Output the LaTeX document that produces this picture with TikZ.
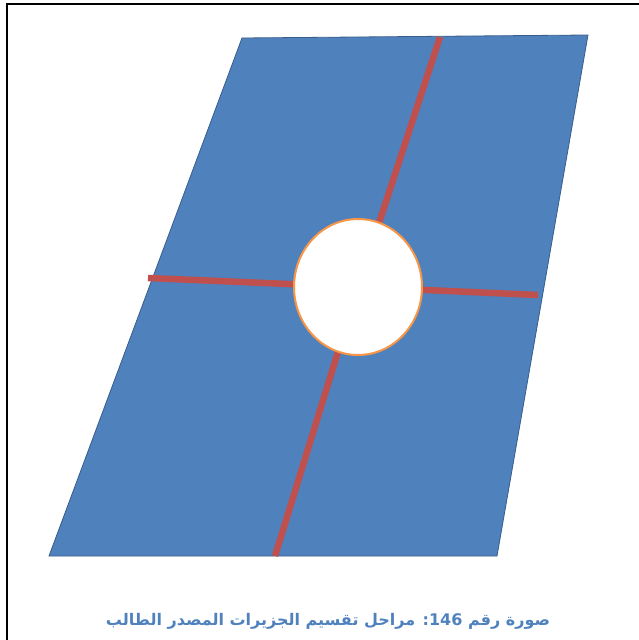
\documentclass[tikz,border=0pt]{standalone}
\usepackage{fontspec}
\newfontfamily\arabicfont[Script=Arabic]{DejaVu Sans}
\TeXXeTstate=1
\definecolor{panelblue}{RGB}{79,129,189}
\definecolor{paneledge}{RGB}{56,93,138}
\definecolor{cutred}{RGB}{192,80,77}
\definecolor{ringorange}{RGB}{247,150,70}
\definecolor{captionblue}{RGB}{79,129,189}
\tikzset{
  cutline/.style={draw=cutred, line width=6.5pt},
  panel/.style={fill=panelblue, draw=paneledge, line width=0.8pt},
  hole/.style={fill=white, draw=ringorange, line width=2pt},
  frameline/.style={draw=black, line width=1.6pt}
}
\begin{document}
\begin{tikzpicture}[x=1pt,y=-1pt]
\useasboundingbox (0,0) rectangle (639,640);
\draw[frameline] (7,645) -- (7,4) -- (645,4);
\coordinate (tl) at (242,38);
\coordinate (tr) at (588,35);
\coordinate (br) at (497,556);
\coordinate (bl) at (49,556);
\path[panel] (tl) -- (tr) -- (br) -- (bl) -- cycle;
\coordinate (c) at (358,287);
\coordinate (ntop) at (440,37);
\coordinate (nbot) at (275,556);
\coordinate (wl) at (148,278);
\coordinate (er) at (538,295);
\draw[cutline] (ntop) -- (c) -- (nbot);
\draw[cutline] (wl) -- (c) -- (er);
\path[hole] (c) ellipse [x radius=64, y radius=68];
\node[text=captionblue, font=\arabicfont\bfseries\fontsize{16}{18}\selectfont, anchor=center] (cap) at (328,621)
  {\beginR صورة رقم \beginL 146\endL: مراحل تقسيم الجزيرات المصدر الطالب\endR};
\end{tikzpicture}
\end{document}
